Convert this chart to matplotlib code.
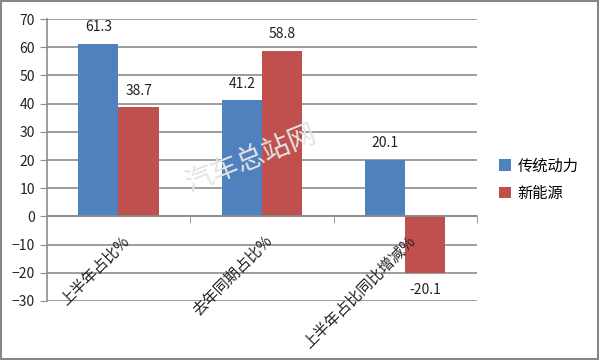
import numpy as np
import matplotlib
matplotlib.use("Agg")
import matplotlib.pyplot as plt
import matplotlib.transforms as mtrans
from matplotlib.patches import Rectangle

plt.rcParams['font.family'] = ['Noto Sans CJK SC', 'DejaVu Sans']

# data
categories = ["上半年占比%", "去年同期占比%", "上半年占比同比增减%"]
series_names = ["传统动力", "新能源"]
traditional = [61.3, 41.2, 20.1]
new_energy = [38.7, 58.8, -20.1]
y_ticks = [-30, -20, -10, 0, 10, 20, 30, 40, 50, 60, 70]

blue = "#4F81BD"
red = "#C0504D"
grid_c = "#8C8C8C"

fig = plt.figure(figsize=(6, 3.6), dpi=100)
ax = fig.add_axes([0.078, 0.164, 0.717, 0.783])

# gridlines behind bars, axis labels above them
for t in y_ticks:
    ax.axhline(t, color=grid_c, linewidth=1.2, zorder=0)

x = np.arange(len(categories))
w = 0.28
b1 = ax.bar(x - w / 2, traditional, w, color=blue, label=series_names[0], zorder=1)
b2 = ax.bar(x + w / 2, new_energy, w, color=red, label=series_names[1], zorder=1)

# value labels
for bars in (b1, b2):
    for rect in bars:
        v = rect.get_height()
        cx = rect.get_x() + rect.get_width() / 2
        if v >= 0:
            ax.annotate(f"{v:.1f}", (cx, v), xytext=(0, 7), textcoords="offset points",
                        ha="center", va="bottom", fontsize=10, color="#222222")
        else:
            ax.annotate(f"{v:.1f}", (cx, v), xytext=(0, -7), textcoords="offset points",
                        ha="center", va="top", fontsize=10, color="#222222")

ax.set_xlim(-0.5, 2.5)
ax.set_ylim(-30, 70)
ax.set_yticks(y_ticks)
ax.tick_params(axis="y", length=5, color=grid_c, labelsize=10, labelcolor="#222222")

for s in ("top", "right"):
    ax.spines[s].set_visible(False)
ax.spines["left"].set_color(grid_c)
ax.spines["left"].set_linewidth(1.2)
ax.spines["bottom"].set_position(("data", 0))
ax.spines["bottom"].set_color(grid_c)
ax.spines["bottom"].set_linewidth(1.2)

# category tick marks at boundaries, labels at centers
ax.set_xticks([0.5, 1.5, 2.5], minor=True)
ax.tick_params(axis="x", which="minor", length=5, color=grid_c, direction="out")
ax.set_xticks(x)
ax.set_xticklabels(categories, rotation=45, ha="right", va="center",
                   rotation_mode="anchor", fontsize=11, color="#222222")
ax.tick_params(axis="x", which="major", length=0, pad=16)
offset = mtrans.ScaledTranslation(6 / 72, 0, fig.dpi_scale_trans)
for lbl in ax.get_xticklabels():
    lbl.set_transform(lbl.get_transform() + offset)
    lbl.set_zorder(5)

# legend
ax.legend(loc="center left", bbox_to_anchor=(1.02, 0.43), frameon=False,
          fontsize=11, handlelength=0.75, handleheight=0.75, handletextpad=0.45,
          labelspacing=0.7)

# watermark
fig.text(0.42, 0.56, "汽车总站网", fontsize=20, color="#e4e4e4", rotation=22,
         ha="center", va="center", zorder=0)

# outer frame
fig.patches.append(Rectangle((0.002, 0.003), 0.995, 0.993, transform=fig.transFigure,
                             fill=False, edgecolor="#888888", linewidth=1.5))

fig.savefig("out.png", dpi=100)
